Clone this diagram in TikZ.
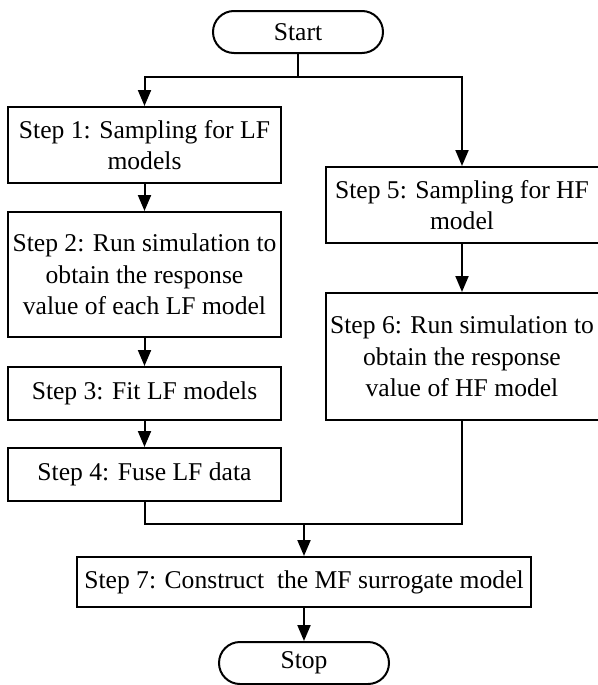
\documentclass[tikz,border=0pt]{standalone}
\usepackage{fontspec}
\setmainfont{Liberation Serif}
\newfontfamily\chartfont{Liberation Serif}
\usetikzlibrary{arrows.meta}
\tikzstyle{stepbox}=[draw, line width=1pt, align=center, inner sep=1pt, minimum width=136.5pt, font=\chartfont\fontsize{12.8}{15.75}\selectfont]
\tikzstyle{term}=[draw, line width=1pt, rounded corners=10.5pt, minimum width=85pt, minimum height=21pt, font=\chartfont\fontsize{12.8}{15.75}\selectfont]
\tikzstyle{link}=[line width=1pt]
\tikzstyle{flow}=[line width=1pt, -{Triangle[length=8pt,width=6.5pt]}]
\newcommand{\leftX}{144.5}
\newcommand{\rightX}{462}
\newcommand{\midX}{304}

\begin{document}
\begin{tikzpicture}[x=0.5pt,y=-0.5pt]
\useasboundingbox (0,0) rectangle (598,685);
\node[term] (start) at (298,32) {Start};
\node[stepbox, minimum height=38pt] (s1) at (\leftX,145) {Step 1: Sampling for LF\\models};
\node[stepbox, minimum height=62.5pt] (s2) at (\leftX,274.5) {Step 2: Run simulation to\\obtain the response\\value of each LF model};
\node[stepbox, minimum height=26.5pt] (s3) at (\leftX,393.5) {Step 3: Fit LF models};
\node[stepbox, minimum height=26.5pt] (s4) at (\leftX,474.5) {Step 4: Fuse LF data};
\node[stepbox, minimum height=38pt] (s5) at (\rightX,205) {Step 5: Sampling for HF\\model};
\node[stepbox, minimum height=63.5pt] (s6) at (\rightX,356.5) {Step 6: Run simulation to\\obtain the response\\value of HF model};
\node[stepbox, minimum height=25pt, minimum width=227pt] (s7) at (\midX,582) {Step 7: Construct\ \ the MF surrogate model};
\node[term] (stop) at (\midX,663) {Stop};
\coordinate (fork) at (start.south |- 0,77);
\coordinate (join) at (s7.north |- 0,524);
\draw[link] (start.south) -- (fork);
\draw[flow] (fork) -| (s1.north);
\draw[flow] (fork) -| (s5.north);
\draw[flow] (s1) -- (s2);
\draw[flow] (s2) -- (s3);
\draw[flow] (s3) -- (s4);
\draw[flow] (s5) -- (s6);
\draw[link] (s4.south) |- (join) -| (s6.south);
\draw[flow] (join) -- (s7);
\draw[flow] (s7) -- (stop);
\end{tikzpicture}
\end{document}
